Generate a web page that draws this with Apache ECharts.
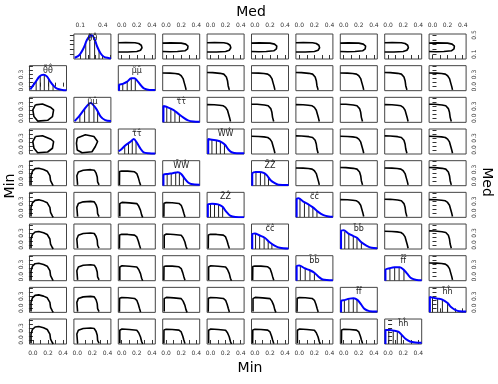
<!DOCTYPE html>
<html>
<head>
<meta charset="utf-8">
<script src="https://cdn.jsdelivr.net/npm/echarts@6.0.0/dist/echarts.min.js"></script>
<style>
  body { margin: 0; background: #fff; }
  #chart { width: 498px; height: 384px; }
</style>
</head>
<body>
<div id="chart"></div>
<script>
// axis ranges and ticks
var xRange = [-0.045, 0.445];
var yRange = [-0.1, 0.52];
var thetaXRange = [0.014, 0.51];
var thetaYRange = [0, 0.52];
var xTicks = [0, 0.1, 0.2, 0.3, 0.4];
var xLabels = [0, 0.2, 0.4];
var yTicks = [0, 0.1, 0.2, 0.3, 0.4, 0.5];
var yLabels = [0, 0.3];
var thetaTicks = [0.1, 0.2, 0.3, 0.4, 0.5];
var thetaXLabels = [0.1, 0.4];
var thetaYLabels = [0.1, 0.5];

var diagNames = ['θ̃θ̂', 'μ̃μ̂', 'τ̃τ̂', 'W̃Ŵ', 'Z̃Ẑ', 'c̃ĉ', 'b̃b̂', 'f̃f̂', 'h̃ĥ'];

// densities, Min (below diagonal): [x, height as share of panel]
var minTheta = [[-0.035,0.05],[0.03,0.32],[0.087,0.57],[0.14,0.64],[0.185,0.57],[0.23,0.36],[0.275,0.19],[0.32,0.08],[0.39,0.03],[0.445,0.02]];
var minMu    = [[-0.035,0.05],[0.02,0.23],[0.087,0.5],[0.14,0.7],[0.176,0.77],[0.21,0.7],[0.26,0.5],[0.31,0.23],[0.37,0.09],[0.445,0.05]];
var minTau   = [[-0.04,0.11],[0.0,0.2],[0.05,0.35],[0.12,0.5],[0.16,0.6],[0.2,0.46],[0.25,0.21],[0.29,0.07],[0.36,0.03],[0.445,0.02]];
var minW     = [[-0.035,0],[-0.035,0.43],[0.024,0.47],[0.087,0.5],[0.156,0.54],[0.2,0.47],[0.244,0.29],[0.288,0.14],[0.332,0.07],[0.445,0.04]];
var minZ     = [[-0.035,0],[-0.035,0.51],[0.02,0.54],[0.1,0.52],[0.16,0.42],[0.205,0.24],[0.26,0.07],[0.33,0.01],[0.445,0.0]];
var minC     = [[-0.035,0],[-0.035,0.59],[0.0,0.62],[0.058,0.55],[0.13,0.45],[0.195,0.27],[0.26,0.14],[0.33,0.05],[0.445,0.02]];
var minB     = [[-0.035,0],[-0.035,0.57],[0.0,0.61],[0.068,0.5],[0.13,0.43],[0.2,0.32],[0.255,0.16],[0.31,0.05],[0.445,0.02]];
var minF     = [[-0.035,0],[-0.035,0.45],[0.01,0.49],[0.078,0.55],[0.13,0.56],[0.185,0.49],[0.23,0.32],[0.275,0.14],[0.34,0.05],[0.445,0.03]];
var minH     = [[-0.035,0],[-0.035,0.56],[0.024,0.56],[0.087,0.53],[0.14,0.49],[0.185,0.35],[0.23,0.21],[0.29,0.1],[0.36,0.06],[0.445,0.05]];

var minThetaV = [[0.043,0.37],[0.097,0.59],[0.151,0.63],[0.209,0.46],[0.267,0.21]];
var minMuV    = [[0.034,0.28],[0.097,0.53],[0.156,0.73],[0.22,0.66],[0.269,0.45]];
var minTauV   = [[0.04,0.32],[0.09,0.44],[0.14,0.55],[0.19,0.5]];
var minWV     = [[0.014,0.46],[0.068,0.49],[0.127,0.52],[0.176,0.51],[0.229,0.35]];
var minZV     = [[0.0,0.53],[0.053,0.53],[0.107,0.51],[0.161,0.41]];
var minCV     = [[0.009,0.61],[0.063,0.54],[0.122,0.46],[0.176,0.32],[0.225,0.21]];
var minBV     = [[0.014,0.59],[0.078,0.49],[0.141,0.41],[0.2,0.32]];
var minFV     = [[0.009,0.49],[0.068,0.54],[0.127,0.56],[0.176,0.5]];
var minHV     = [[0.009,0.56],[0.068,0.54],[0.122,0.5],[0.176,0.38]];

// densities, Med (above diagonal)
var medTheta = [[0.024,0.05],[0.088,0.16],[0.143,0.43],[0.188,0.76],[0.227,0.92],[0.252,0.95],[0.287,0.83],[0.327,0.49],[0.371,0.23],[0.416,0.09],[0.475,0.04],[0.51,0.03]];
var medMu    = [[-0.035,0],[-0.035,0.23],[0.014,0.27],[0.073,0.36],[0.127,0.5],[0.17,0.5],[0.215,0.36],[0.26,0.19],[0.3,0.08],[0.37,0.03],[0.445,0.03]];
var medTau   = [[-0.035,0],[-0.035,0.65],[0.03,0.59],[0.1,0.49],[0.16,0.35],[0.23,0.19],[0.29,0.08],[0.36,0.03],[0.445,0.02]];
var medW     = [[-0.03,0],[-0.03,0.6],[0.02,0.57],[0.087,0.54],[0.15,0.47],[0.195,0.36],[0.24,0.17],[0.28,0.07],[0.35,0.03],[0.445,0.03]];
var medZ     = [[-0.035,0],[-0.035,0.48],[0.01,0.55],[0.058,0.55],[0.117,0.51],[0.16,0.41],[0.205,0.23],[0.264,0.1],[0.313,0.04],[0.445,0.03]];
var medC     = [[-0.035,0],[-0.035,0.72],[-0.01,0.76],[0.048,0.64],[0.11,0.54],[0.18,0.4],[0.25,0.22],[0.32,0.09],[0.39,0.03],[0.445,0.02]];
var medB     = [[-0.035,0],[-0.035,0.73],[0.0,0.75],[0.058,0.63],[0.127,0.52],[0.176,0.45],[0.234,0.27],[0.3,0.14],[0.37,0.05],[0.445,0.03]];
var medF     = [[-0.035,0],[-0.035,0.43],[0.024,0.5],[0.087,0.54],[0.156,0.54],[0.21,0.43],[0.255,0.27],[0.31,0.09],[0.38,0.03],[0.445,0.02]];
var medH     = [[-0.035,0],[-0.035,0.62],[0.0,0.59],[0.068,0.55],[0.13,0.51],[0.2,0.37],[0.245,0.21],[0.3,0.1],[0.36,0.04],[0.445,0.03]];

var medThetaV = [[0.173,0.65],[0.227,0.92],[0.292,0.79],[0.351,0.35]];
var medMuV    = [[0.014,0.27],[0.073,0.36],[0.127,0.5],[0.18,0.48]];
var medTauV   = [[0.009,0.62],[0.063,0.54],[0.117,0.45],[0.176,0.32]];
var medWV     = [[0.019,0.57],[0.078,0.54],[0.131,0.49],[0.185,0.39]];
var medZV     = [[0.014,0.55],[0.073,0.54],[0.131,0.48],[0.18,0.33]];
var medCV     = [[0.009,0.74],[0.068,0.61],[0.127,0.51],[0.18,0.4],[0.234,0.26]];
var medBV     = [[0.014,0.7],[0.068,0.61],[0.127,0.52],[0.176,0.45],[0.234,0.27]];
var medFV     = [[0.024,0.5],[0.087,0.54],[0.146,0.54],[0.21,0.43]];
var medHV     = [[0.0,0.59],[0.068,0.55],[0.131,0.51],[0.2,0.37]];

var minDens = [minTheta, minMu, minTau, minW, minZ, minC, minB, minF, minH];
var minVert = [minThetaV, minMuV, minTauV, minWV, minZV, minCV, minBV, minFV, minHV];
var medDens = [medTheta, medMu, medTau, medW, medZ, medC, medB, medF, medH];
var medVert = [medThetaV, medMuV, medTauV, medWV, medZV, medCV, medBV, medFV, medHV];

// contour outlines
var minLoopA = [[0.033,0.334],[0.127,0.353],[0.239,0.266],[0.274,0.21],[0.259,0.043],[0.195,-0.05],[0.063,-0.069],[0.014,0.043],[-0.001,0.21],[0.033,0.334]];
var minLoopB = [[-0.001,0.297],[0.107,0.377],[0.22,0.334],[0.269,0.21],[0.239,0.086],[0.195,-0.044],[0.063,-0.069],[-0.001,-0.001],[-0.011,0.167],[-0.001,0.297]];
var minDomeA = [[-0.025,-0.081],[-0.025,0.148],[-0.006,0.26],[0.029,0.322],[0.078,0.334],[0.141,0.303],[0.19,0.26],[0.225,0.148],[0.234,0.024],[0.259,-0.069],[0.269,-0.1]];
var minDomeB = [[0.004,-0.081],[-0.006,0.148],[0.014,0.241],[0.078,0.284],[0.176,0.297],[0.225,0.284],[0.249,0.21],[0.264,0.117],[0.269,-0.007],[0.288,-0.081]];
var minTableA = [[-0.025,-0.081],[-0.025,0.241],[0.004,0.272],[0.102,0.26],[0.2,0.241],[0.225,0.179],[0.249,0.074],[0.264,-0.038],[0.278,-0.1]];
var minTableB = [[-0.03,-0.085],[-0.028,0.25],[0.0,0.265],[0.08,0.262],[0.17,0.245],[0.2,0.2],[0.22,0.1],[0.235,0.0],[0.25,-0.09]];
var medBlobA = [[-0.045,0.338],[0.053,0.343],[0.176,0.338],[0.225,0.322],[0.259,0.286],[0.269,0.234],[0.249,0.182],[0.2,0.156],[0.078,0.146],[-0.045,0.146]];
var medBlobB = [[-0.045,0.33],[0.06,0.335],[0.2,0.33],[0.26,0.31],[0.29,0.27],[0.285,0.21],[0.25,0.17],[0.15,0.155],[0.05,0.15],[-0.045,0.155]];
var medCornerA = [[-0.045,0.35],[0.029,0.347],[0.127,0.33],[0.176,0.31],[0.21,0.241],[0.225,0.148],[0.234,0.024],[0.249,-0.081]];
var medCornerB = [[-0.045,0.34],[0.05,0.335],[0.12,0.325],[0.17,0.31],[0.2,0.27],[0.225,0.2],[0.24,0.1],[0.255,0.0],[0.265,-0.08]];

function contourFor(r, c) {
  if (c > r) {
    if (r === 0) return c % 2 ? medBlobB : medBlobA;
    return (r + c) % 2 ? medCornerA : medCornerB;
  }
  if (r <= 3 && c <= 1) return (r === 3 && c === 1) ? minLoopB : minLoopA;
  if (c === 0) return minDomeA;
  if (c === 1) return minDomeB;
  return (r + c) % 2 ? minTableA : minTableB;
}

var X0 = 29.5, DX = 44.4, PW = 37, Y0 = 34, DY = 31.67, PH = 25;
var grids = [], xAxes = [], yAxes = [], series = [], texts = [];

function fmt(v) { return v.toFixed(1); }

function makeAxis(dim, g, range, pos, ticks, labels) {
  return {
    type: 'value', gridIndex: g, min: range[0], max: range[1], position: pos,
    splitLine: { show: false },
    axisLine: { show: false },
    axisTick: { show: !!ticks, customValues: ticks || [], length: 4, lineStyle: { color: '#333', width: 1 } },
    axisLabel: {
      show: !!labels, customValues: labels || [], formatter: fmt,
      fontSize: 6, color: '#333', fontFamily: 'DejaVu Sans', margin: dim === 'y' ? 5 : 6,
      rotate: dim === 'y' ? 90 : 0
    }
  };
}

function vertItem(params, api) {
  var p0 = api.coord([api.value(0), 0]);
  var p1 = api.coord([api.value(0), api.value(1)]);
  return { type: 'line', shape: { x1: p0[0], y1: p0[1], x2: p1[0], y2: p1[1] },
           style: { stroke: '#222', lineWidth: 1 } };
}

for (var r = 0; r < 10; r++) {
  for (var c = 0; c < 10; c++) {
    if (r === c) continue;
    var g = grids.length;
    var pLeft = X0 + c * DX, pTop = Y0 + r * DY;
    grids.push({ left: pLeft, top: pTop, width: PW, height: PH, show: true,
                 borderColor: '#444', borderWidth: 1, backgroundColor: '#fff' });

    var xr = (r === 0 && c === 1) ? thetaXRange : xRange;
    var yr = r === 0 ? thetaYRange : yRange;

    var xt = null, xl = null, xpos = 'bottom';
    if (r === 0) { xpos = 'top'; xt = c === 1 ? thetaTicks : xTicks; xl = c === 1 ? thetaXLabels : xLabels; }
    else if (r === 9) { xt = xTicks; xl = xLabels; }
    else if (r === 1 && c === 0) { xpos = 'top'; xt = xTicks; }
    else if (r === 8 && c === 9) { xt = xTicks; }

    var yt = null, yl = null, ypos = 'left';
    if (c === 0) { yt = yTicks; yl = yLabels; }
    else if (c === 9) { ypos = 'right'; yt = r === 0 ? thetaTicks : yTicks; yl = r === 0 ? thetaYLabels : yLabels; }
    else if (r === 0 && c === 1) { yt = thetaTicks; }
    else if (r === 9 && c === 8) { ypos = 'right'; yt = yTicks; }

    var xi = xAxes.length;
    xAxes.push(makeAxis('x', g, xr, xpos, xt, xl));
    var yi = yAxes.length;
    yAxes.push(makeAxis('y', g, yr, ypos, yt, yl));

    var k = -1, dens = null, vert = null;
    if (c === r + 1) { k = r; dens = medDens[k]; vert = medVert[k]; }
    else if (c === r - 1) { k = c; dens = minDens[k]; vert = minVert[k]; }

    if (dens) {
      // own hidden axis for the density height
      var di = yAxes.length;
      yAxes.push({ type: 'value', gridIndex: g, min: 0, max: 1, show: false });
      series.push({ type: 'custom', xAxisIndex: xi, yAxisIndex: di, data: vert,
                    renderItem: vertItem, silent: true, clip: true, z: 2 });
      series.push({ type: 'line', xAxisIndex: xi, yAxisIndex: di, data: dens,
                    smooth: 0.3, symbol: 'none', silent: true, clip: true, z: 3,
                    lineStyle: { color: '#0000ff', width: 2 } });
      texts.push({ type: 'text', x: pLeft + PW / 2, y: pTop + 1, z: 100,
                   style: { text: diagNames[k], fontSize: 8, fontFamily: 'DejaVu Sans',
                            fill: '#222', align: 'center', verticalAlign: 'top' } });
    } else {
      series.push({ type: 'line', xAxisIndex: xi, yAxisIndex: yi, data: contourFor(r, c),
                    symbol: 'none', silent: true, clip: true,
                    lineStyle: { color: '#000', width: 1.6 } });
    }
  }
}

// outer titles
texts.push({ type: 'text', x: 251, y: 12, style: { text: 'Med', fontSize: 14, fontFamily: 'DejaVu Sans', fill: '#000', align: 'center', verticalAlign: 'middle' } });
texts.push({ type: 'text', x: 250, y: 368, style: { text: 'Min', fontSize: 14, fontFamily: 'DejaVu Sans', fill: '#000', align: 'center', verticalAlign: 'middle' } });
texts.push({ type: 'text', x: 10, y: 186, rotation: Math.PI / 2, style: { text: 'Min', fontSize: 14, fontFamily: 'DejaVu Sans', fill: '#000', align: 'center', verticalAlign: 'middle' } });
texts.push({ type: 'text', x: 487, y: 182, rotation: -Math.PI / 2, style: { text: 'Med', fontSize: 14, fontFamily: 'DejaVu Sans', fill: '#000', align: 'center', verticalAlign: 'middle' } });

var chart = echarts.init(document.getElementById('chart'));
chart.setOption({
  animation: false,
  backgroundColor: '#fff',
  grid: grids,
  xAxis: xAxes,
  yAxis: yAxes,
  series: series,
  graphic: texts
});
</script>
</body>
</html>
